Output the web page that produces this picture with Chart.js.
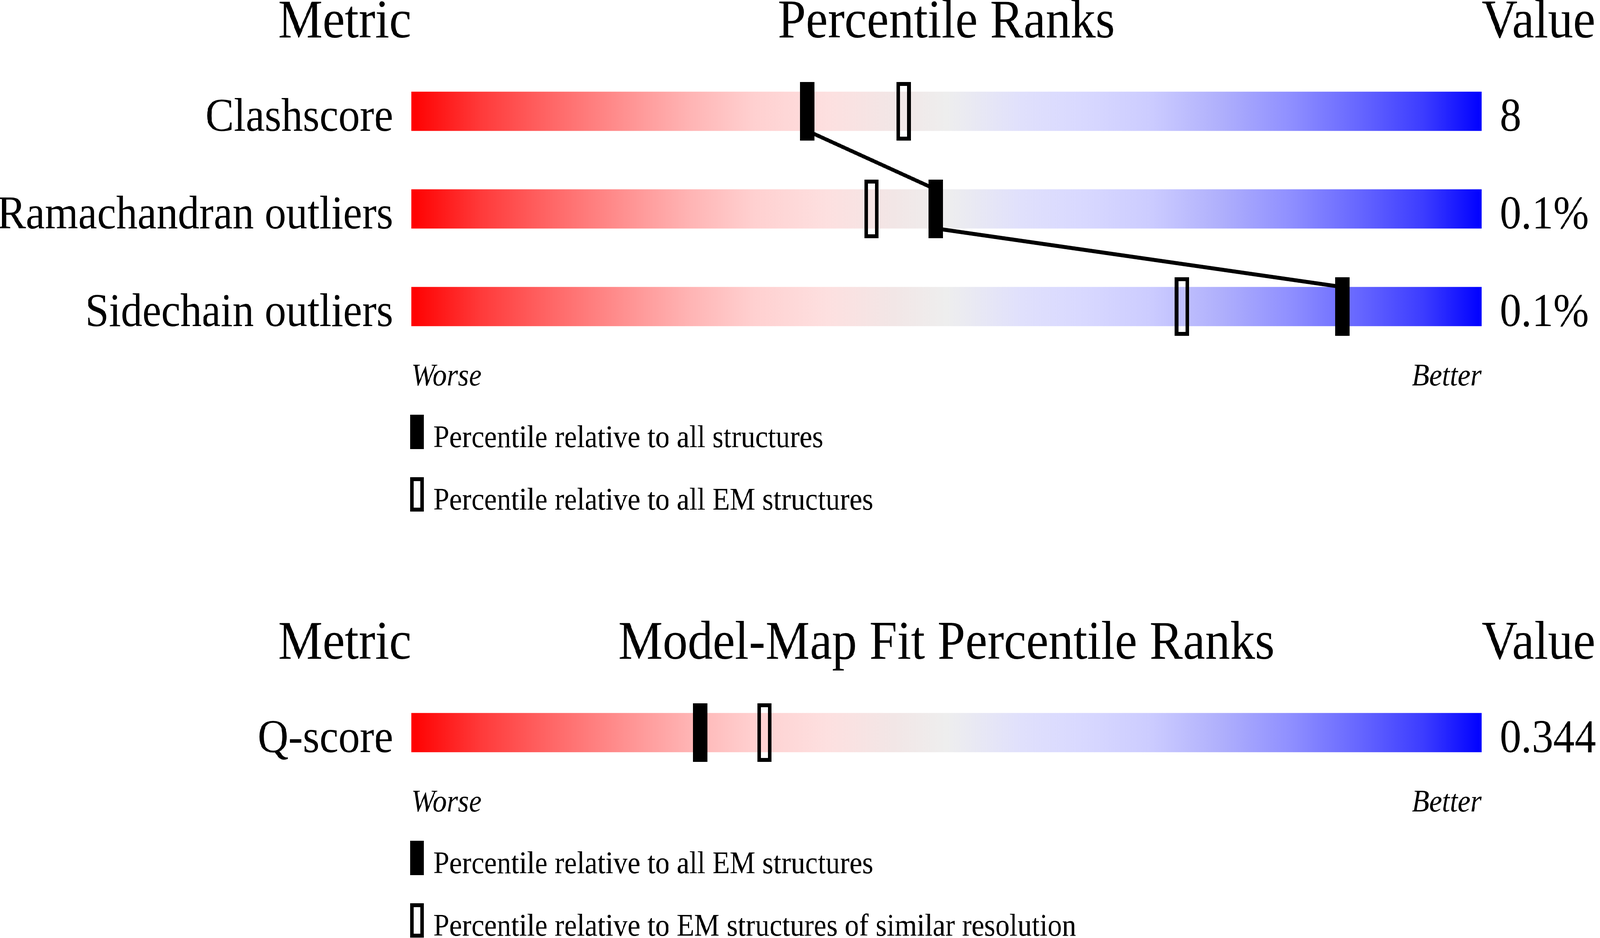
<!DOCTYPE html>
<html>
<head>
<meta charset="utf-8">
<script src="https://cdn.jsdelivr.net/npm/chart.js@4.4.1/dist/chart.umd.min.js"></script>
<style>
html, body { margin: 0; padding: 0; background: #ffffff; overflow: hidden; width: 100%; height: 100%; }
#viewport { position: fixed; left: 0; top: 0; right: 0; bottom: 0; overflow: hidden; background: #ffffff; }
#stage { position: absolute; left: 0; top: 0; width: 4485px; height: 2402px; transform-origin: 0 0; }
#stage canvas { position: absolute; left: 0; }
#geo { top: 0; }
#fit { top: 1400px; }
</style>
</head>
<body>
<div id="viewport"><div id="stage">
<canvas id="geo" width="4485" height="1400"></canvas>
<canvas id="fit" width="4485" height="1002"></canvas>
</div></div>
<script>
// ---- Data: geometry section ----
const geoHeaders = ['Metric', 'Percentile Ranks', 'Value'];
const geoMetrics = ['Clashscore', 'Ramachandran outliers', 'Sidechain outliers'];
const geoValues = ['8', '0.1%', '0.1%'];
const geoPctAll = [37, 49, 87];      // percentile relative to all structures
const geoPctEM = [46, 43, 72];       // percentile relative to all EM structures
const geoLegend = ['Percentile relative to all structures', 'Percentile relative to all EM structures'];

// ---- Data: model-map fit section ----
const fitHeaders = ['Metric', 'Model-Map Fit Percentile Ranks', 'Value'];
const fitMetrics = ['Q-score'];
const fitValues = ['0.344'];
const fitPctAllEM = [27];            // percentile relative to all EM structures
const fitPctSimRes = [33];           // percentile relative to EM structures of similar resolution
const fitLegend = ['Percentile relative to all EM structures', 'Percentile relative to EM structures of similar resolution'];

const axisEnds = ['Worse', 'Better'];

// ---- Page scaling: the 4485x2402 design is fitted to the actual viewport ----
const DESIGN_W = 4485, DESIGN_H = 2402;
const vw = window.innerWidth || document.documentElement.clientWidth || DESIGN_W;
const vh = window.innerHeight || document.documentElement.clientHeight || DESIGN_H;
const sx = vw / DESIGN_W, sy = vh / DESIGN_H;
document.getElementById('stage').style.transform = 'scale(' + sx + ',' + sy + ')';
const renderRatio = Math.max(1, Math.max(sx, sy) * (window.devicePixelRatio || 1));

// ---- Styling ----
const SERIF = '"Liberation Serif", "Times New Roman", Times, serif';
const gradientStops = [
  [0.00, 'rgb(255,0,0)'],
  [0.065, 'rgb(255,58,58)'],
  [0.13, 'rgb(255,102,102)'],
  [0.20, 'rgb(255,145,145)'],
  [0.26, 'rgb(255,180,180)'],
  [0.32, 'rgb(255,208,208)'],
  [0.39, 'rgb(253,224,224)'],
  [0.45, 'rgb(242,230,230)'],
  [0.50, 'rgb(238,238,238)'],
  [0.57, 'rgb(224,224,252)'],
  [0.63, 'rgb(216,216,255)'],
  [0.69, 'rgb(204,204,255)'],
  [0.755, 'rgb(176,176,252)'],
  [0.82, 'rgb(144,144,255)'],
  [0.88, 'rgb(106,106,255)'],
  [0.946, 'rgb(60,60,255)'],
  [1.00, 'rgb(0,0,255)']
];

function markerImage(w, h, hollow) {
  const c = document.createElement('canvas');
  c.width = w; c.height = h;
  const g = c.getContext('2d');
  g.fillStyle = '#000';
  if (hollow) {
    const b = 10;
    g.fillRect(0, 0, w, b);
    g.fillRect(0, h - b, w, b);
    g.fillRect(0, 0, b, h);
    g.fillRect(w - b, 0, b, h);
  } else {
    g.fillRect(0, 0, w, h);
  }
  return c;
}
const solidMarker = markerImage(40, 150, false);
const hollowMarker = markerImage(40, 150, true);

function barGradient(ctx) {
  const chart = ctx.chart;
  const a = chart.chartArea;
  if (!a) return 'rgb(238,238,238)';
  const g = chart.ctx.createLinearGradient(a.left, 0, a.right, 0);
  gradientStops.forEach(s => g.addColorStop(s[0], s[1]));
  return g;
}

function annotationPlugin(headers, legendTexts) {
  return {
    id: 'annotations',
    afterDraw(chart) {
      const ctx = chart.ctx;
      const a = chart.chartArea;
      ctx.save();
      ctx.fillStyle = '#000';
      ctx.textBaseline = 'alphabetic';
      ctx.font = '140px ' + SERIF;
      const hy = a.top - 64;
      ctx.textAlign = 'right';
      ctx.fillText(headers[0], a.left, hy);
      ctx.textAlign = 'center';
      ctx.fillText(headers[1], (a.left + a.right) / 2, hy);
      ctx.textAlign = 'left';
      ctx.fillText(headers[2], a.right, hy);
      ctx.font = 'italic 80px ' + SERIF;
      ctx.textAlign = 'left';
      ctx.fillText(axisEnds[0], a.left, a.bottom + 77);
      ctx.textAlign = 'right';
      ctx.fillText(axisEnds[1], a.right, a.bottom + 77);
      ctx.font = '80px ' + SERIF;
      ctx.textAlign = 'left';
      legendTexts.forEach((t, i) => {
        const top = a.bottom + 152 + i * 160;
        const x = a.left - 3;
        if (i === 0) {
          ctx.fillRect(x, top, 38, 88);
        } else {
          ctx.fillRect(x, top, 38, 10);
          ctx.fillRect(x, top + 78, 38, 10);
          ctx.fillRect(x, top, 10, 88);
          ctx.fillRect(x + 28, top, 10, 88);
        }
        ctx.fillText(t, a.left + 62, top + 83);
      });
      ctx.restore();
    }
  };
}

function rowAxis(position, texts, width, padding) {
  const n = texts.length;
  return {
    type: 'linear', position, min: -0.5, max: n - 0.5, reverse: true, offset: false,
    grid: { display: false, offset: false }, border: { display: false },
    afterBuildTicks(s) { s.ticks = texts.map((t, i) => ({ value: i })); },
    ticks: {
      autoSkip: false, color: '#000', padding, labelOffset: 18,
      font: { family: SERIF, size: 120 },
      callback: (v) => (Number.isInteger(v) && texts[v] !== undefined ? texts[v] : '')
    },
    afterFit(s) { s.width = width; }
  };
}

function makeChart(id, metrics, values, pctSolid, pctHollow, headers, legendTexts, padTop, padBottom, connect) {
  const n = metrics.length;
  const datasets = [
    {
      type: 'scatter',
      label: legendTexts[0],
      data: pctSolid.map((v, i) => ({ x: v, y: i })),
      xAxisID: 'x', yAxisID: 'y',
      pointStyle: solidMarker, pointRadius: 5, pointHoverRadius: 5,
      order: 0
    },
    {
      type: 'scatter',
      label: legendTexts[1],
      data: pctHollow.map((v, i) => ({ x: v, y: i })),
      xAxisID: 'x', yAxisID: 'y',
      pointStyle: hollowMarker, pointRadius: 5, pointHoverRadius: 5,
      order: 1
    }
  ];
  if (connect) {
    const half = 0.2; // half of the bar thickness, in row units
    const pts = [];
    pctSolid.forEach((v, i) => {
      if (i > 0) pts.push({ x: v, y: i - half });
      if (i < n - 1) pts.push({ x: v, y: i + half });
    });
    datasets.push({
      type: 'line',
      label: 'link',
      data: pts,
      xAxisID: 'x', yAxisID: 'y',
      borderColor: '#000', borderWidth: 10, pointRadius: 0, tension: 0, fill: false,
      order: 2
    });
  }
  datasets.push({
    type: 'bar',
    label: 'range',
    data: metrics.map((m, i) => ({ x: [0, 100], y: i })),
    xAxisID: 'x', yAxisID: 'y',
    backgroundColor: barGradient,
    borderWidth: 0,
    barThickness: 100,
    grouped: false,
    order: 3
  });

  return new Chart(document.getElementById(id), {
    type: 'bar',
    data: { datasets },
    options: {
      indexAxis: 'y',
      responsive: false,
      animation: false,
      devicePixelRatio: renderRatio,
      events: [],
      layout: { padding: { top: padTop, bottom: padBottom, left: 0, right: 0 } },
      plugins: { legend: { display: false }, tooltip: { enabled: false }, title: { display: false } },
      scales: {
        x: { type: 'linear', min: 0, max: 100, display: false, offset: false },
        y: rowAxis('left', metrics, 1153, 43),
        yR: rowAxis('right', values, 332, 43)
      }
    },
    plugins: [annotationPlugin(headers, legendTexts)]
  });
}

makeChart('geo', geoMetrics, geoValues, geoPctAll, geoPctEM, geoHeaders, geoLegend, 160, 490, true);
makeChart('fit', fitMetrics, fitValues, fitPctAllEM, fitPctSimRes, fitHeaders, fitLegend, 351, 401, false);
</script>
</body>
</html>
